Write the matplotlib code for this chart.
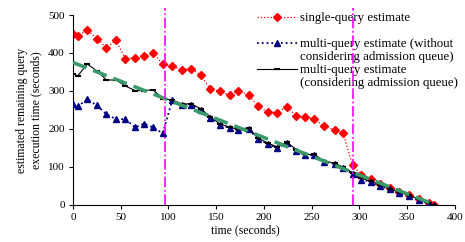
import matplotlib
matplotlib.use("Agg")
import matplotlib.pyplot as plt
from matplotlib.lines import Line2D

plt.rcParams["font.family"] = ["Liberation Serif", "DejaVu Serif"]

# time points (seconds)
t = [0, 5, 15, 25, 35, 45, 55, 65, 74, 84, 94, 104, 114, 124, 134, 144, 154,
     164, 173, 184, 194, 204, 214, 224, 234, 243, 253, 263, 274, 283, 293,
     302, 312, 322, 332, 342, 352, 362, 373, 378]

single_q = [449, 446, 460, 438, 414, 433, 384, 388, 392, 401, 370, 366, 355,
            359, 341, 305, 299, 289, 300, 290, 260, 245, 243, 259, 234, 231,
            226, 208, 197, 189, 104, 80, 68, 56, 45, 35, 26, 15, 4, 0]

multi_noq = [267, 260, 278, 262, 239, 226, 226, 204, 214, 204, 189, 276, 264,
             264, 250, 230, 210, 203, 197, 199, 173, 161, 150, 162, 143, 131,
             131, 113, 108, 97, 82, 67, 61, 50, 41, 31, 24, 13, 3, 0]

multi_q = [345, 340, 371, 353, 329, 329, 313, 301, 301, 303, 280, 276, 266,
           266, 253, 232, 213, 205, 199, 203, 176, 163, 153, 165, 146, 133,
           133, 116, 110, 100, 85, 70, 63, 53, 43, 33, 26, 15, 5, 0]

# ideal remaining time (green dashed)
ideal_t = [0, 380]
ideal_v = [375, 0]

# events (vertical lines)
events = [96, 293]

fig = plt.figure(figsize=(4.65, 2.42), dpi=100)
ax = fig.add_axes([0.157, 0.153, 0.821, 0.785])

h_single, = ax.plot(t, single_q, color="red", linestyle=":", linewidth=0.9,
                    marker="D", markersize=3.8, zorder=2)
h_noq, = ax.plot(t, multi_noq, color="#000080", linestyle=":", linewidth=1.3,
                 marker="^", markersize=4.5, zorder=3)
h_q, = ax.plot(t, multi_q, color="black", linestyle="-", linewidth=0.8,
               marker="_", markersize=5, markeredgewidth=1.5, zorder=4)
ax.plot(ideal_t, ideal_v, color="#3a9a6a", linestyle=(0, (4, 2)),
        linewidth=2.6, zorder=5)

for ev in events:
    ax.axvline(ev, ymin=0, ymax=1.035, color="magenta", linestyle="-.",
               linewidth=1.2, clip_on=False, zorder=6)

ax.set_xlim(0, 400)
ax.set_ylim(0, 500)
ax.set_xticks(range(0, 401, 50))
ax.set_yticks(range(0, 501, 100))
ax.spines["top"].set_visible(False)
ax.spines["right"].set_visible(False)
ax.tick_params(direction="out", length=3, labelsize=8, pad=3)

ax.set_xlabel("time (seconds)", fontsize=8.5, labelpad=1)
ax.xaxis.set_label_coords(0.452, -0.1)
ax.set_ylabel("estimated remaining query\nexecution time (seconds)",
              fontsize=8.5, linespacing=1.25, labelpad=4)

# legend: one row per text line, continuation rows have no handle
blank = Line2D([], [], linestyle="none")
handles = [h_single, blank, h_noq, blank, h_q, blank]
labels = ["single-query estimate", " ",
          "multi-query estimate (without", "considering admission queue)",
          "multi-query estimate", "(considering admission queue)"]
ax.legend(handles, labels, loc="upper left",
          bbox_to_anchor=(257 / 465, 1 - 12 / 242),
          bbox_transform=fig.transFigure, frameon=False,
          fontsize=9.3, handlelength=3.1, handletextpad=0.23,
          labelspacing=0.08, borderpad=0, borderaxespad=0)

fig.savefig("out.png", dpi=100)
